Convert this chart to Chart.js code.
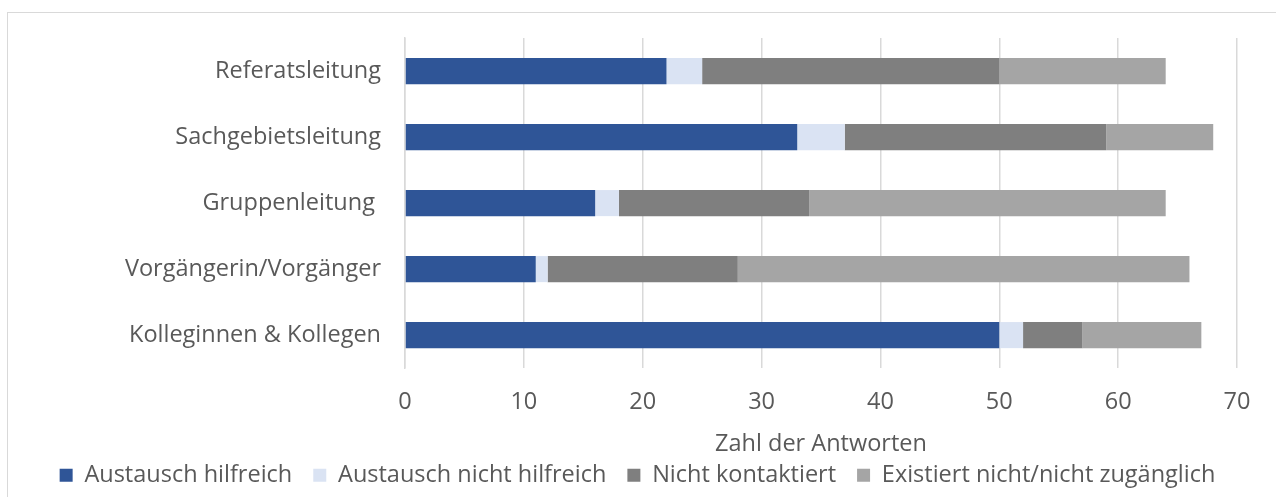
<!DOCTYPE html>
<html><head><meta charset="utf-8">
<script src="https://cdn.jsdelivr.net/npm/chart.js@4/dist/chart.umd.min.js"></script>
<style>
html,body{margin:0;padding:0;background:#fff;overflow:hidden;}
#wrap{position:absolute;left:0;top:0;width:1276px;height:497px;}
#frame{position:absolute;left:7px;top:12px;width:1300px;height:600px;border:1px solid #D9D9D9;box-sizing:border-box;pointer-events:none;}
</style></head>
<body>
<div id="wrap"><canvas id="c" width="1276" height="497"></canvas></div>
<div id="frame"></div>
<script>
const categories = ["Referatsleitung","Sachgebietsleitung","Gruppenleitung ","Vorgängerin/Vorgänger","Kolleginnen & Kollegen"];
const seriesNames = ["Austausch hilfreich","Austausch nicht hilfreich","Nicht kontaktiert","Existiert nicht/nicht zugänglich"];
const austauschHilfreich = [22,33,16,11,50];
const austauschNichtHilfreich = [3,4,2,1,2];
const nichtKontaktiert = [25,22,16,16,5];
const existiertNicht = [14,9,30,38,10];
const xTicks = [0,10,20,30,40,50,60,70];
const axisTitle = "Zahl der Antworten";

const colors = ["#2F5597","#DAE3F3","#7F7F7F","#A5A5A5"];
const values = [austauschHilfreich,austauschNichtHilfreich,nichtKontaktiert,existiertNicht];
const FONT = "'Open Sans', sans-serif";
const TXT = "#595959";
const FS = 23.5;
const PADL = 38;

new Chart(document.getElementById('c'), {
  type: 'bar',
  data: {
    labels: categories,
    datasets: seriesNames.map((n,i)=>({
      label: n, data: values[i], backgroundColor: colors[i],
      borderWidth: 0, barPercentage: 0.79, categoryPercentage: 0.5
    }))
  },
  options: {
    indexAxis: 'y',
    responsive: false,
    animation: false,
    layout: {padding: {left: PADL, right: 39, top: 37, bottom: 0}},
    plugins: {
      legend: {
        position: 'bottom',
        labels: {font:{family:FONT,size:FS}, color:TXT, boxWidth:13, boxHeight:13, padding:21, useBorderRadius:false}
      },
      tooltip: {enabled:false}
    },
    scales: {
      x: {
        stacked: true, min: 0, max: 70,
        afterBuildTicks: s => { s.ticks = xTicks.map(v=>({value:v})); },
        grid: {color:"#D9D9D9", lineWidth:1.5, drawTicks:false},
        border: {display:false},
        ticks: {font:{family:FONT,size:FS}, color:TXT, padding:20},
        title: {display:true, text:axisTitle, font:{family:FONT,size:FS}, color:TXT, padding:{top:-6,bottom:-16}}
      },
      y: {
        stacked: true,
        grid: {display:false, drawTicks:false},
        border: {display:true, color:"#D9D9D9", width:1.5},
        ticks: {font:{family:FONT,size:FS}, color:TXT, padding:24},
        afterFit: s => { s.width = 405 - PADL; }
      }
    }
  }
});
</script>
</body></html>
